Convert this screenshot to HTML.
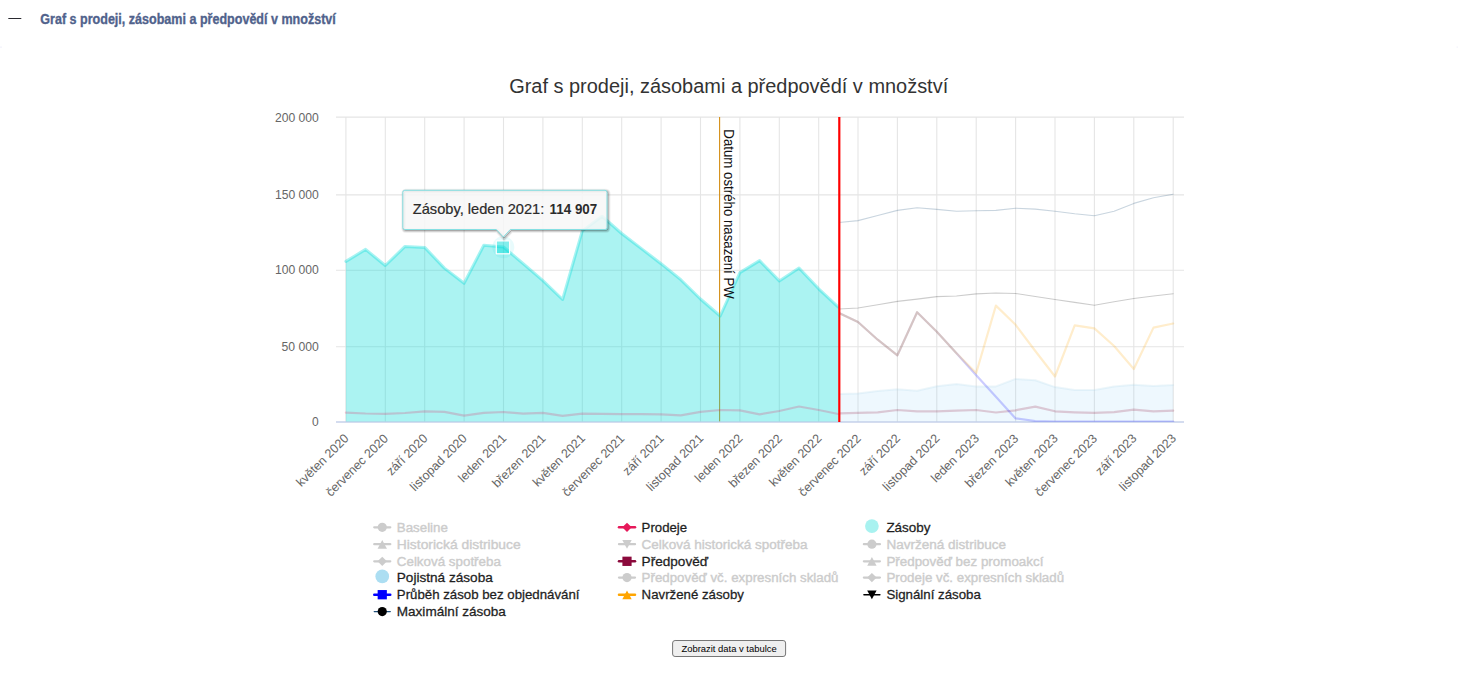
<!DOCTYPE html>
<html lang="cs"><head><meta charset="utf-8"><title>Graf</title>
<style>
html,body{margin:0;padding:0;background:#fff;}
body{width:1458px;height:690px;overflow:hidden;position:relative;font-family:"Liberation Sans", sans-serif;}
svg{position:absolute;left:0;top:0;}
text{font-family:"Liberation Sans", sans-serif;}
</style></head><body>
<svg width="1458" height="690" viewBox="0 0 1458 690">
<rect x="8.3" y="18" width="13" height="1" fill="#2a2a30"/>
<rect x="0" y="46.6" width="2" height="1" fill="#efeffa"/><rect x="1456.5" y="46.6" width="1.5" height="1" fill="#f1f1fa"/>
<text x="40.3" y="23.9" font-size="14.3" font-weight="bold" fill="#50628c" stroke="#50628c" stroke-width="0.35" textLength="295.5" lengthAdjust="spacingAndGlyphs">Graf s prodeji, zásobami a předpovědí v množství</text>
<text x="509.2" y="93.2" font-size="20" fill="#333" textLength="439" lengthAdjust="spacingAndGlyphs">Graf s prodeji, zásobami a předpovědí v množství</text>
<g stroke="#e5e5e5" stroke-width="1.1" fill="none">
<path d="M345.9 117 V422"/>
<path d="M385.3 117 V422"/>
<path d="M424.7 117 V422"/>
<path d="M464.1 117 V422"/>
<path d="M503.5 117 V422"/>
<path d="M542.9 117 V422"/>
<path d="M582.3 117 V422"/>
<path d="M621.7 117 V422"/>
<path d="M661.1 117 V422"/>
<path d="M700.5 117 V422"/>
<path d="M739.9 117 V422"/>
<path d="M779.3 117 V422"/>
<path d="M818.7 117 V422"/>
<path d="M858.0 117 V422"/>
<path d="M897.4 117 V422"/>
<path d="M936.8 117 V422"/>
<path d="M976.2 117 V422"/>
<path d="M1015.6 117 V422"/>
<path d="M1055.0 117 V422"/>
<path d="M1094.4 117 V422"/>
<path d="M1133.8 117 V422"/>
<path d="M1173.2 117 V422"/>
<path d="M336 117.1 H1184"/>
<path d="M336 194.9 H1184"/>
<path d="M336 270.3 H1184"/>
<path d="M336 346.8 H1184"/>
</g>
<path d="M719.6 117 V422" stroke="#d48e16" stroke-width="1.1" fill="none"/>
<path d="M336 422.05 H1184" stroke="#c6d1ea" stroke-width="1.5" fill="none"/>
<defs><clipPath id="cr"><rect x="839.3" y="110" width="360" height="311.9"/></clipPath></defs>
<g fill="none" stroke-linejoin="round" stroke-linecap="round">
<path d="M345.9 261.4 L365.6 249.4 L385.3 265.5 L405.0 246.4 L424.7 247.4 L444.4 268.1 L464.1 283.3 L483.8 245.2 L503.5 247.0 L523.2 263.7 L542.9 280.6 L562.6 299.5 L582.3 230.9 L602.0 216.2 L621.7 233.5 L641.4 248.6 L661.1 263.7 L680.8 279.7 L700.5 299.0 L720.2 316.0 L739.9 272.6 L759.6 260.6 L779.3 280.9 L799.0 268.0 L818.7 288.8 L838.3 307.1 L838.3 421.45 L345.9 421.45 Z" fill="#00dcd8" fill-opacity="0.33" stroke="none"/>
<path d="M345.9 261.4 L365.6 249.4 L385.3 265.5 L405.0 246.4 L424.7 247.4 L444.4 268.1 L464.1 283.3 L483.8 245.2 L503.5 247.0 L523.2 263.7 L542.9 280.6 L562.6 299.5 L582.3 230.9 L602.0 216.2 L621.7 233.5 L641.4 248.6 L661.1 263.7 L680.8 279.7 L700.5 299.0 L720.2 316.0 L739.9 272.6 L759.6 260.6 L779.3 280.9 L799.0 268.0 L818.7 288.8 L838.3 307.1" stroke="#00dcd8" stroke-opacity="0.34" stroke-width="3"/>
<path d="M345.9 412.6 L365.6 413.5 L385.3 413.9 L405.0 413.0 L424.7 411.4 L444.4 411.8 L464.1 415.7 L483.8 412.8 L503.5 412.0 L523.2 413.6 L542.9 412.8 L562.6 415.9 L582.3 413.7 L602.0 413.8 L621.7 414.2 L641.4 414.2 L661.1 414.4 L680.8 415.4 L700.5 411.9 L720.2 410.0 L739.9 410.4 L759.6 414.4 L779.3 411.0 L799.0 406.5 L818.7 410.0 L838.3 414.0" stroke="#e6195a" stroke-width="2.2" opacity="0.21"/>
<g clip-path="url(#cr)">
<path d="M838.3 394.0 L858.0 393.6 L877.7 391.1 L897.4 389.3 L917.1 390.8 L936.8 386.2 L956.5 384.0 L976.2 386.6 L995.9 386.4 L1015.6 378.9 L1035.3 380.2 L1055.0 387.1 L1074.7 390.0 L1094.4 390.0 L1114.1 386.5 L1133.8 384.7 L1153.5 386.1 L1173.2 385.0 L1173.2 421.45 L838.3 421.45 Z" fill="#87cefa" fill-opacity="0.14" stroke="none"/><path d="M838.3 394.0 L858.0 393.6 L877.7 391.1 L897.4 389.3 L917.1 390.8 L936.8 386.2 L956.5 384.0 L976.2 386.6 L995.9 386.4 L1015.6 378.9 L1035.3 380.2 L1055.0 387.1 L1074.7 390.0 L1094.4 390.0 L1114.1 386.5 L1133.8 384.7 L1153.5 386.1 L1173.2 385.0" stroke="#add8e6" stroke-opacity="0.22" stroke-width="2"/>
<path d="M838.3 413.3 L858.0 412.9 L877.7 412.3 L897.4 410.0 L917.1 411.3 L936.8 411.3 L956.5 410.7 L976.2 410.0 L995.9 412.5 L1015.6 410.3 L1035.3 406.6 L1055.0 411.3 L1074.7 412.3 L1094.4 412.9 L1114.1 412.1 L1133.8 409.7 L1153.5 411.3 L1173.2 410.7" stroke="#8b0a34" stroke-width="2.2" opacity="0.2"/>
<path d="M838.3 312.7 L858.0 322.0 L877.7 339.7 L897.4 355.3 L917.1 312.2 L936.8 331.8 L956.5 353.3 L976.2 375.3 L995.9 396.8 L1015.6 418.4 L1035.3 421.0 L1055.0 421.5 L1074.7 421.5 L1094.4 421.5 L1114.1 421.5 L1133.8 421.5 L1153.5 421.5 L1173.2 421.5" stroke="#0000ff" stroke-width="2.2" opacity="0.2"/>
<path d="M838.3 312.7 L858.0 322.0 L877.7 339.7 L897.4 355.3 L917.1 312.2 L936.8 331.8 L956.5 353.3 L976.2 373.0 L995.9 305.6 L1015.6 324.8 L1035.3 351.0 L1055.0 376.5 L1074.7 325.4 L1094.4 328.4 L1114.1 346.0 L1133.8 369.0 L1153.5 327.6 L1173.2 323.5" stroke="#ffa500" stroke-width="2.2" opacity="0.2"/>
<path d="M838.3 312.7 L858.0 322.0 L877.7 339.7 L897.4 355.3 L917.1 312.2 L936.8 331.8 L956.5 353.3" stroke="#bec800" stroke-width="2.2" opacity="0.035"/>
<path d="M838.3 309.0 L858.0 308.0 L877.7 304.7 L897.4 301.4 L917.1 299.1 L936.8 296.6 L956.5 296.0 L976.2 293.9 L995.9 293.0 L1015.6 293.5 L1035.3 296.5 L1055.0 299.5 L1074.7 302.4 L1094.4 305.2 L1114.1 301.8 L1133.8 298.5 L1153.5 296.0 L1173.2 293.7" stroke="#000" stroke-width="1.1" opacity="0.2"/>
<path d="M838.3 222.6 L858.0 220.6 L877.7 215.5 L897.4 210.4 L917.1 207.7 L936.8 209.4 L956.5 211.2 L976.2 210.8 L995.9 210.4 L1015.6 208.2 L1035.3 209.1 L1055.0 211.3 L1074.7 213.8 L1094.4 215.8 L1114.1 211.3 L1133.8 203.4 L1153.5 197.8 L1173.2 194.3" stroke="#1f4e79" stroke-width="1.1" opacity="0.24"/>
</g></g>
<path d="M839.3 117 V422" stroke="#ff0000" stroke-width="2.2" fill="none"/>
<text transform="translate(723.5,129.3) rotate(90) scale(1,1.14)" font-size="13.5" fill="#111" textLength="169.5" lengthAdjust="spacingAndGlyphs">Datum ostrého nasazení PW</text>
<text x="318.8" y="121.7" font-size="12" fill="#666" text-anchor="end" textLength="43.9" lengthAdjust="spacingAndGlyphs">200 000</text>
<text x="318.8" y="198.7" font-size="12" fill="#666" text-anchor="end" textLength="43.9" lengthAdjust="spacingAndGlyphs">150 000</text>
<text x="318.8" y="274.0" font-size="12" fill="#666" text-anchor="end" textLength="43.9" lengthAdjust="spacingAndGlyphs">100 000</text>
<text x="318.8" y="351.3" font-size="12" fill="#666" text-anchor="end" textLength="37.3" lengthAdjust="spacingAndGlyphs">50 000</text>
<text x="318.8" y="426.2" font-size="12" fill="#666" text-anchor="end">0</text>
<text transform="translate(349.5,439.2) rotate(-45)" font-size="12.5" fill="#666" text-anchor="end">květen 2020</text>
<text transform="translate(388.9,439.2) rotate(-45)" font-size="12.5" fill="#666" text-anchor="end">červenec 2020</text>
<text transform="translate(428.3,439.2) rotate(-45)" font-size="12.5" fill="#666" text-anchor="end">září 2020</text>
<text transform="translate(467.7,439.2) rotate(-45)" font-size="12.5" fill="#666" text-anchor="end">listopad 2020</text>
<text transform="translate(507.1,439.2) rotate(-45)" font-size="12.5" fill="#666" text-anchor="end">leden 2021</text>
<text transform="translate(546.5,439.2) rotate(-45)" font-size="12.5" fill="#666" text-anchor="end">březen 2021</text>
<text transform="translate(585.9,439.2) rotate(-45)" font-size="12.5" fill="#666" text-anchor="end">květen 2021</text>
<text transform="translate(625.3,439.2) rotate(-45)" font-size="12.5" fill="#666" text-anchor="end">červenec 2021</text>
<text transform="translate(664.7,439.2) rotate(-45)" font-size="12.5" fill="#666" text-anchor="end">září 2021</text>
<text transform="translate(704.1,439.2) rotate(-45)" font-size="12.5" fill="#666" text-anchor="end">listopad 2021</text>
<text transform="translate(743.5,439.2) rotate(-45)" font-size="12.5" fill="#666" text-anchor="end">leden 2022</text>
<text transform="translate(782.9,439.2) rotate(-45)" font-size="12.5" fill="#666" text-anchor="end">březen 2022</text>
<text transform="translate(822.3,439.2) rotate(-45)" font-size="12.5" fill="#666" text-anchor="end">květen 2022</text>
<text transform="translate(861.6,439.2) rotate(-45)" font-size="12.5" fill="#666" text-anchor="end">červenec 2022</text>
<text transform="translate(901.0,439.2) rotate(-45)" font-size="12.5" fill="#666" text-anchor="end">září 2022</text>
<text transform="translate(940.4,439.2) rotate(-45)" font-size="12.5" fill="#666" text-anchor="end">listopad 2022</text>
<text transform="translate(979.8,439.2) rotate(-45)" font-size="12.5" fill="#666" text-anchor="end">leden 2023</text>
<text transform="translate(1019.2,439.2) rotate(-45)" font-size="12.5" fill="#666" text-anchor="end">březen 2023</text>
<text transform="translate(1058.6,439.2) rotate(-45)" font-size="12.5" fill="#666" text-anchor="end">květen 2023</text>
<text transform="translate(1098.0,439.2) rotate(-45)" font-size="12.5" fill="#666" text-anchor="end">červenec 2023</text>
<text transform="translate(1137.4,439.2) rotate(-45)" font-size="12.5" fill="#666" text-anchor="end">září 2023</text>
<text transform="translate(1176.8,439.2) rotate(-45)" font-size="12.5" fill="#666" text-anchor="end">listopad 2023</text>
<circle cx="503.3" cy="247.3" r="11" fill="#00d2dc" fill-opacity="0.09"/>
<rect x="496.3" y="240.9" width="13.3" height="12.9" fill="#00dcd8" fill-opacity="0.44" stroke="#fff" stroke-width="1.2"/>
<g fill="none" stroke="#000" transform="translate(1,1)">
<path d="M404.8 190.3 H605 a2 2 0 0 1 2 2 V227.5 a2 2 0 0 1 -2 2 H510.3 L503.3 237 L496.3 229.5 H404.8 a2 2 0 0 1 -2 -2 V192.3 a2 2 0 0 1 2 -2 Z" stroke-opacity="0.06" stroke-width="5"/><path d="M404.8 190.3 H605 a2 2 0 0 1 2 2 V227.5 a2 2 0 0 1 -2 2 H510.3 L503.3 237 L496.3 229.5 H404.8 a2 2 0 0 1 -2 -2 V192.3 a2 2 0 0 1 2 -2 Z" stroke-opacity="0.12" stroke-width="3"/><path d="M404.8 190.3 H605 a2 2 0 0 1 2 2 V227.5 a2 2 0 0 1 -2 2 H510.3 L503.3 237 L496.3 229.5 H404.8 a2 2 0 0 1 -2 -2 V192.3 a2 2 0 0 1 2 -2 Z" stroke-opacity="0.2" stroke-width="1"/></g>
<path d="M404.8 190.3 H605 a2 2 0 0 1 2 2 V227.5 a2 2 0 0 1 -2 2 H510.3 L503.3 237 L496.3 229.5 H404.8 a2 2 0 0 1 -2 -2 V192.3 a2 2 0 0 1 2 -2 Z" fill="#f7f7f7" fill-opacity="0.85" stroke="#86dfe2" stroke-width="1"/>
<text x="412.8" y="213.6" font-size="14.2" fill="#2b2b2b" stroke="#2b2b2b" stroke-width="0.2"><tspan textLength="131.5" lengthAdjust="spacingAndGlyphs">Zásoby, leden 2021:</tspan><tspan x="549.6" font-weight="bold" stroke-width="0" textLength="47.6" lengthAdjust="spacingAndGlyphs">114 907</tspan></text>
<path d="M374.25 527.3 H390.25" stroke="#cccccc" stroke-width="2.3" stroke-linecap="round" fill="none"/>
<circle cx="382.25" cy="527.3" r="4.6" fill="#cccccc"/>
<text x="396.8" y="532.0" font-size="13.7" fill="#cccccc" stroke="#cccccc" stroke-width="0.4" textLength="51.1" lengthAdjust="spacingAndGlyphs">Baseline</text>
<path d="M374.25 544.2 H390.25" stroke="#cccccc" stroke-width="2.3" stroke-linecap="round" fill="none"/>
<path d="M382.25 540.0 L386.95 548.7 L377.55 548.7 Z" fill="#cccccc"/>
<text x="396.8" y="548.9" font-size="13.7" fill="#cccccc" stroke="#cccccc" stroke-width="0.4" textLength="123.9" lengthAdjust="spacingAndGlyphs">Historická distribuce</text>
<path d="M374.25 561.3 H390.25" stroke="#cccccc" stroke-width="2.3" stroke-linecap="round" fill="none"/>
<path d="M382.25 556.6999999999999 L386.95 561.3 L382.25 565.9 L377.55 561.3 Z" fill="#cccccc"/>
<text x="396.8" y="566.0" font-size="13.7" fill="#cccccc" stroke="#cccccc" stroke-width="0.4" textLength="104.1" lengthAdjust="spacingAndGlyphs">Celková spotřeba</text>
<circle cx="382.25" cy="576.40" r="6.85" fill="#acdef2"/>
<text x="396.8" y="582.3" font-size="13.7" fill="#1e1e1e" stroke="#1e1e1e" stroke-width="0.28" textLength="96.0" lengthAdjust="spacingAndGlyphs">Pojistná zásoba</text>
<path d="M374.25 594.7 H390.25" stroke="#0000ff" stroke-width="2.5" stroke-linecap="round" fill="none"/>
<rect x="377.65" y="590.05" width="9.2" height="9.3" fill="#0000ff"/>
<text x="396.8" y="599.4" font-size="13.7" fill="#1e1e1e" stroke="#1e1e1e" stroke-width="0.28" textLength="182.7" lengthAdjust="spacingAndGlyphs">Průběh zásob bez objednávání</text>
<path d="M374.25 611.6 H390.25" stroke="#1f4e79" stroke-width="1.4" stroke-linecap="round" fill="none"/>
<circle cx="382.25" cy="611.6" r="4.6" fill="#000"/>
<text x="396.8" y="616.3" font-size="13.7" fill="#1e1e1e" stroke="#1e1e1e" stroke-width="0.28" textLength="109.1" lengthAdjust="spacingAndGlyphs">Maximální zásoba</text>
<path d="M619.00 527.3 H635.00" stroke="#e6195a" stroke-width="2.5" stroke-linecap="round" fill="none"/>
<path d="M627.0 522.6999999999999 L631.7 527.3 L627.0 531.9 L622.3 527.3 Z" fill="#e6195a"/>
<text x="641.6" y="532.0" font-size="13.7" fill="#1e1e1e" stroke="#1e1e1e" stroke-width="0.28" textLength="45.5" lengthAdjust="spacingAndGlyphs">Prodeje</text>
<path d="M619.00 544.2 H635.00" stroke="#cccccc" stroke-width="2.3" stroke-linecap="round" fill="none"/>
<path d="M622.3 539.9000000000001 L631.7 539.9000000000001 L627.0 548.8000000000001 Z" fill="#cccccc"/>
<text x="641.6" y="548.9" font-size="13.7" fill="#cccccc" stroke="#cccccc" stroke-width="0.4" textLength="166.0" lengthAdjust="spacingAndGlyphs">Celková historická spotřeba</text>
<path d="M619.00 561.3 H635.00" stroke="#8b0a3c" stroke-width="2.5" stroke-linecap="round" fill="none"/>
<rect x="622.40" y="556.65" width="9.2" height="9.3" fill="#8b0a3c"/>
<text x="641.6" y="566.0" font-size="13.7" fill="#1e1e1e" stroke="#1e1e1e" stroke-width="0.28" textLength="66.5" lengthAdjust="spacingAndGlyphs">Předpověď</text>
<path d="M619.00 577.6 H635.00" stroke="#cccccc" stroke-width="2.3" stroke-linecap="round" fill="none"/>
<circle cx="627.0" cy="577.6" r="4.6" fill="#cccccc"/>
<text x="641.6" y="582.3" font-size="13.7" fill="#cccccc" stroke="#cccccc" stroke-width="0.4" textLength="196.9" lengthAdjust="spacingAndGlyphs">Předpověď vč. expresních skladů</text>
<path d="M619.00 594.7 H635.00" stroke="#ffa500" stroke-width="2.5" stroke-linecap="round" fill="none"/>
<path d="M627.0 590.5 L631.7 599.2 L622.3 599.2 Z" fill="#ffa500"/>
<text x="641.6" y="599.4" font-size="13.7" fill="#1e1e1e" stroke="#1e1e1e" stroke-width="0.28" textLength="102.3" lengthAdjust="spacingAndGlyphs">Navržené zásoby</text>
<circle cx="871.9" cy="526.10" r="6.85" fill="#a8f2f0"/>
<text x="886.4" y="532.0" font-size="13.7" fill="#1e1e1e" stroke="#1e1e1e" stroke-width="0.28" textLength="44.1" lengthAdjust="spacingAndGlyphs">Zásoby</text>
<path d="M863.90 544.2 H879.90" stroke="#cccccc" stroke-width="2.3" stroke-linecap="round" fill="none"/>
<circle cx="871.9" cy="544.2" r="4.6" fill="#cccccc"/>
<text x="886.4" y="548.9" font-size="13.7" fill="#cccccc" stroke="#cccccc" stroke-width="0.4" textLength="119.6" lengthAdjust="spacingAndGlyphs">Navržená distribuce</text>
<path d="M863.90 561.3 H879.90" stroke="#cccccc" stroke-width="2.3" stroke-linecap="round" fill="none"/>
<path d="M871.9 557.0999999999999 L876.6 565.8 L867.1999999999999 565.8 Z" fill="#cccccc"/>
<text x="886.4" y="566.0" font-size="13.7" fill="#cccccc" stroke="#cccccc" stroke-width="0.4" textLength="157.0" lengthAdjust="spacingAndGlyphs">Předpověď bez promoakcí</text>
<path d="M863.90 577.6 H879.90" stroke="#cccccc" stroke-width="2.3" stroke-linecap="round" fill="none"/>
<path d="M871.9 573.0 L876.6 577.6 L871.9 582.2 L867.1999999999999 577.6 Z" fill="#cccccc"/>
<text x="886.4" y="582.3" font-size="13.7" fill="#cccccc" stroke="#cccccc" stroke-width="0.4" textLength="177.7" lengthAdjust="spacingAndGlyphs">Prodeje vč. expresních skladů</text>
<path d="M863.90 594.7 H879.90" stroke="#000" stroke-width="1.4" stroke-linecap="round" fill="none"/>
<path d="M867.1999999999999 590.4000000000001 L876.6 590.4000000000001 L871.9 599.3000000000001 Z" fill="#000"/>
<text x="886.4" y="599.4" font-size="13.7" fill="#1e1e1e" stroke="#1e1e1e" stroke-width="0.28" textLength="94.5" lengthAdjust="spacingAndGlyphs">Signální zásoba</text>
<rect x="672.6" y="640.5" width="113" height="16" rx="2.5" fill="#efefef" stroke="#767676" stroke-width="1"/>
<text x="681.4" y="651.8" font-size="9" fill="#000" textLength="95.4" lengthAdjust="spacingAndGlyphs">Zobrazit data v tabulce</text>
</svg></body></html>
